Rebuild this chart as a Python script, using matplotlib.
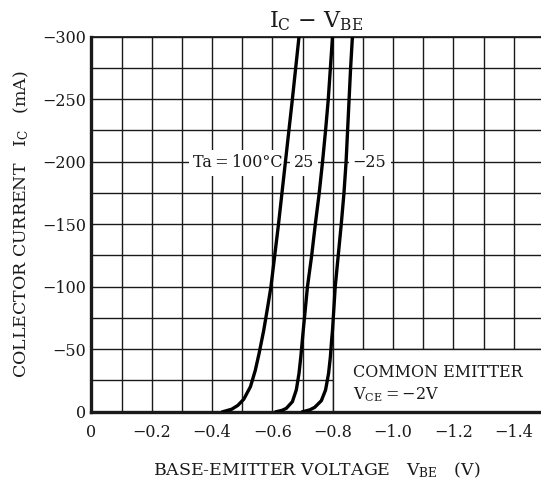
import matplotlib
matplotlib.use("Agg")
import matplotlib.pyplot as plt
import numpy as np
from matplotlib.patches import Rectangle

plt.rcParams["font.family"] = ["DejaVu Serif"]
plt.rcParams["mathtext.fontset"] = "dejavuserif"

# curve data: collector current (mA) vs base-emitter voltage (V)
ic_100 = [0, -2, -5, -10, -20, -33, -47, -65, -85, -100, -150, -200, -250, -300]
vbe_100 = [-0.436, -0.465, -0.485, -0.505, -0.527, -0.543, -0.556, -0.571, -0.585, -0.595,
           -0.620, -0.643, -0.666, -0.688]

ic_25 = [0, -1.2, -2.7, -8, -17.4, -30.7, -44, -57, -65, -100, -125, -150, -175, -200, -225,
         -250, -275, -300]
vbe_25 = [-0.613, -0.633, -0.646, -0.666, -0.679, -0.688, -0.694, -0.699, -0.702, -0.716, -0.730,
          -0.742, -0.755, -0.766, -0.776, -0.785, -0.792, -0.799]

ic_m25 = [0, -1.5, -3.5, -8.8, -17.4, -30.7, -44, -57, -65, -100, -125, -150, -175, -200, -225,
          -250, -275, -300]
vbe_m25 = [-0.701, -0.724, -0.740, -0.762, -0.776, -0.786, -0.792, -0.796, -0.799, -0.808, -0.818,
           -0.828, -0.837, -0.844, -0.849, -0.854, -0.859, -0.865]

x_ticks = [0, -0.2, -0.4, -0.6, -0.8, -1.0, -1.2, -1.4]
x_ticklabels = ["0", "\u22120.2", "\u22120.4", "\u22120.6", "\u22120.8", "\u22121.0", "\u22121.2", "\u22121.4"]
y_ticks = [0, -50, -100, -150, -200, -250, -300]
y_ticklabels = ["0", "\u221250", "\u2212100", "\u2212150", "\u2212200", "\u2212250", "\u2212300"]

ink = "#1a1a1a"

fig = plt.figure(figsize=(5.41, 4.79), dpi=100)
ax = fig.add_axes([0.169, 0.1405, 0.831, 0.783])
ax.set_xlim(0, -1.49)
ax.set_ylim(0, -300)

ax.set_xticks(x_ticks)
ax.set_xticklabels(x_ticklabels)
ax.set_xticks(np.arange(0, -1.5, -0.1), minor=True)
ax.set_yticks(y_ticks)
ax.set_yticklabels(y_ticklabels)
ax.set_yticks(np.arange(0, -301, -25), minor=True)
ax.tick_params(which="both", length=0, labelsize=11.5, colors=ink)
ax.tick_params(axis="x", pad=9)
ax.tick_params(axis="y", pad=4)
ax.grid(which="both", color=ink, linewidth=1.0, zorder=1)
ax.set_axisbelow(True)

for side in ("left", "bottom"):
    ax.spines[side].set_linewidth(2.4)
    ax.spines[side].set_color(ink)
ax.spines["top"].set_linewidth(1.3)
ax.spines["top"].set_color(ink)
ax.spines["right"].set_visible(False)

# blank box for the circuit note, bottom right
ax.add_patch(Rectangle((-0.8, 0), -0.75, -50, facecolor="white", edgecolor=ink,
                       linewidth=1.0, zorder=1.5))

for v, i in [(vbe_100, ic_100), (vbe_25, ic_25), (vbe_m25, ic_m25)]:
    ax.plot(v, i, color="black", linewidth=2.4, zorder=3, solid_joinstyle="round")

box = dict(facecolor="white", edgecolor="none", pad=3)
ax.text(-0.485, -199, "Ta\u2009=\u2009100\u00b0C", ha="center", va="center", fontsize=11.5,
        color=ink, bbox=box, zorder=2)
ax.text(-0.704, -199, "25", ha="center", va="center", fontsize=11.5, color=ink, bbox=box, zorder=2)
ax.text(-0.922, -199, "\u221225", ha="center", va="center", fontsize=11.5, color=ink, bbox=box, zorder=2)

ax.text(-0.866, -31, "COMMON EMITTER", ha="left", va="center", fontsize=11.5, color=ink, zorder=4)
ax.text(-0.866, -14, "$\\mathrm{V_{CE}}$\u2009=\u2009\u22122V", ha="left", va="center", fontsize=11.5,
        color=ink, zorder=4)

ax.set_xlabel("BASE-EMITTER VOLTAGE   $\\mathrm{V_{BE}}$   (V)", fontsize=12.5, color=ink, labelpad=14)
ax.set_ylabel("COLLECTOR CURRENT   $\\mathrm{I_C}$   (mA)", fontsize=12.5, color=ink, labelpad=8)
fig.text(0.584, 0.956, "$\\mathrm{I_C}$ \u2212 $\\mathrm{V_{BE}}$", ha="center", va="center",
         fontsize=16, color=ink)

fig.savefig("out.png", dpi=100)
